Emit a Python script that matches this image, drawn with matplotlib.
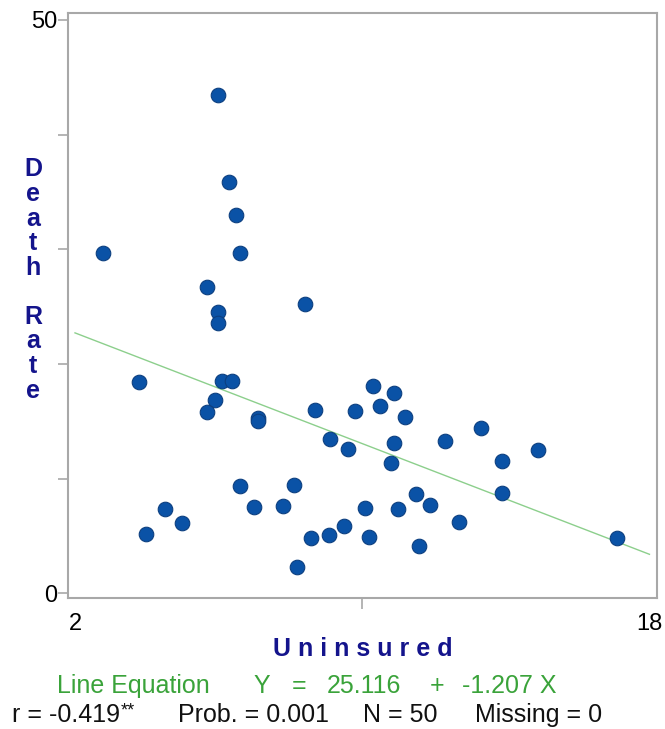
import matplotlib
matplotlib.use("Agg")
import matplotlib.pyplot as plt
import numpy as np

plt.rcParams['font.family'] = ['Liberation Sans', 'DejaVu Sans']

# Uninsured rate (%) and death rate for each state
uninsured = [5.99, 6.29, 6.48, 2.79, 6.59, 5.68, 5.99, 5.99, 3.78, 6.09,
             6.38, 5.89, 5.68, 7.09, 7.09, 6.59, 4.50, 4.99, 3.99, 6.98,
             8.40, 10.30, 10.88, 8.69, 9.80, 10.49, 11.20, 9.10, 9.59, 10.88,
             12.30, 10.79, 8.09, 7.78, 10.08, 10.99, 11.49, 11.89, 12.69, 9.49,
             9.08, 8.58, 10.19, 11.59, 8.19, 13.30, 14.89, 13.90, 13.90, 17.09]
death_rate = [43.48, 35.82, 32.94, 29.71, 29.71, 26.69, 24.56, 23.60, 18.40, 18.49,
              18.49, 16.88, 15.79, 15.26, 15.05, 9.35, 7.35, 6.15, 5.14, 7.55,
              25.21, 18.08, 17.47, 15.99, 15.90, 16.36, 15.40, 13.46, 12.58, 13.11,
              13.25, 11.36, 9.47, 7.58, 7.46, 7.35, 8.68, 7.67, 6.19, 5.86,
              5.05, 4.84, 4.93, 4.14, 2.31, 14.39, 12.47, 11.56, 8.77, 4.84]

line_intercept = 25.116
line_slope = -1.207
line_x_range = [2, 18]

x_tick_labels = ["2", "18"]
y_tick_labels = ["0", "50"]

stats_r = "-0.419"
stats_sig = "**"
stats_prob = "0.001"
stats_n = 50
stats_missing = 0

W, H = 665, 729
fig = plt.figure(figsize=(W / 100, H / 100), dpi=100)
ax = fig.add_axes([68 / W, 1 - 598 / H, (657 - 68) / W, (598 - 13) / H])

navy = '#14148c'
green = '#3aa33a'
gray = '#a8a8a8'

ax.scatter(uninsured, death_rate, s=110, facecolor='#0a52a6', edgecolor='#0c3f80',
           linewidth=0.8, zorder=3)

lx = np.array(line_x_range, dtype=float)
ax.plot(lx, line_intercept + line_slope * lx, color='#8ccf8c', lw=1.0, zorder=2)

ax.set_xlim(1.805, 18.21)
ax.set_ylim(-0.42, 50.6)

for s in ax.spines.values():
    s.set_color(gray)
    s.set_linewidth(1.5)

ax.set_xticks([2, 18])
ax.set_xticklabels(x_tick_labels)
ax.set_xticks([10], minor=True)
ax.tick_params(axis='x', which='major', length=0, pad=11, labelsize=17)
ax.tick_params(axis='x', which='minor', length=8, width=1.2, color=gray)

ax.set_yticks([0, 50])
ax.set_yticklabels(y_tick_labels)
ax.set_yticks([10, 20, 30, 40], minor=True)
ax.tick_params(axis='y', which='both', length=7, width=1.2, color=gray, pad=1, labelsize=17)

# axis titles
fig.text(363 / W, 1 - 649 / H, " ".join("Uninsured"), ha='center', va='center',
         color=navy, fontsize=18, fontweight='bold')
fig.text(33 / W, 1 - 280 / H, "\n".join("Death Rate"), ha='center', va='center',
         color=navy, fontsize=18, fontweight='bold', linespacing=1.03,
         multialignment='center')

# regression equation
eq_y = 1 - 686 / H
eq_parts = [(57, "Line Equation", 'left'), (262, "Y", 'center'), (299, "=", 'center'),
            (327, f"{line_intercept:.3f}", 'left'), (437, "+", 'center'),
            (462, f"{line_slope:.3f} X", 'left')]
for px, txt, ha in eq_parts:
    fig.text(px / W, eq_y, txt, ha=ha, va='center', color=green, fontsize=18)

# correlation statistics
st_y = 1 - 715 / H
r_text = fig.text(12 / W, st_y, f"r = {stats_r}", ha='left', va='center',
                  color='#111111', fontsize=18)
fig.canvas.draw()
r_box = r_text.get_window_extent()
fig.text((r_box.x1 + 1) / W, st_y + 4 / H, stats_sig, ha='left', va='center',
         color='#111111', fontsize=13)
st_parts = [(178, f"Prob. = {stats_prob}"),
            (363, f"N = {stats_n}"), (475, f"Missing = {stats_missing}")]
for px, txt in st_parts:
    fig.text(px / W, st_y, txt, ha='left', va='center', color='#111111', fontsize=18)

fig.savefig("out.png", dpi=100)
